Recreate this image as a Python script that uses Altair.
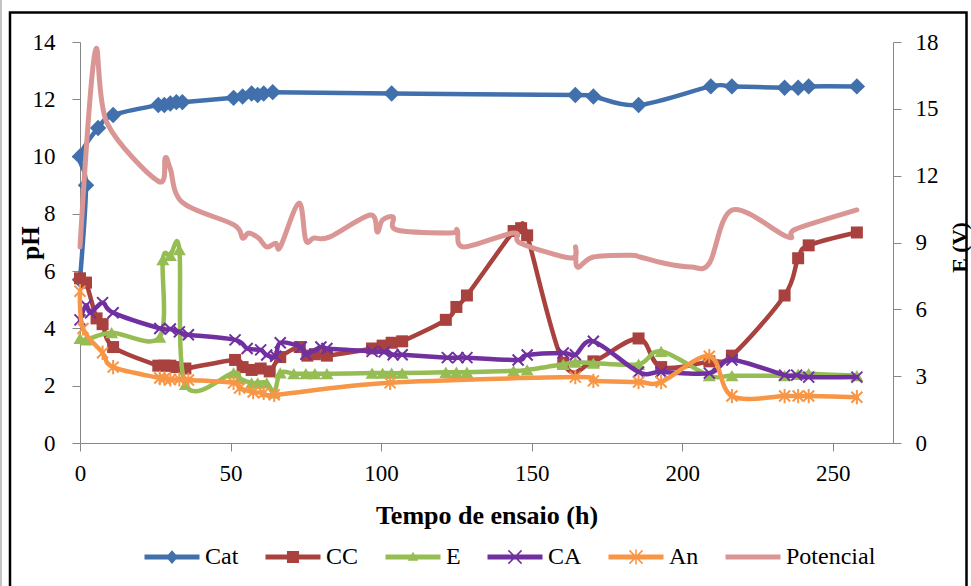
import altair as alt
import pandas as pd

# Elapsed test time (h) and measured pH for each compartment
cat_t = [0, 2, 0, 6, 11, 26, 28, 30, 32, 34, 51, 54, 57, 59, 61, 64, 103.5, 164.5,
         170.5, 185.5, 209.5, 216.5, 234, 238.5, 242, 258]
cat_ph = [5.7, 9.0, 10.0, 11.0, 11.45, 11.8, 11.8, 11.85, 11.9, 11.9, 12.05, 12.1, 12.2,
          12.15, 12.2, 12.25, 12.2, 12.15, 12.1, 11.8, 12.45, 12.45, 12.4, 12.4, 12.45, 12.45]

cc_t = [0, 2, 5.5, 7.5, 11, 26, 28, 30, 32, 35, 51.5, 54, 57, 60, 63, 66.5, 73, 75.5, 78,
        82, 97, 100.5, 103.5, 107, 121.5, 125, 128.5, 144, 146.5, 148.5, 160.5, 170.5,
        185.5, 193, 209, 216.5, 234, 238.5, 242, 258]
cc_ph = [5.75, 5.6, 4.35, 4.15, 3.35, 2.7, 2.7, 2.7, 2.65, 2.6, 2.9, 2.65, 2.55, 2.6, 2.5,
         3.0, 3.35, 3.05, 3.1, 3.05, 3.3, 3.4, 3.5, 3.55, 4.3, 4.75, 5.15, 7.4, 7.5, 7.25,
         2.8, 2.85, 3.65, 2.65, 2.85, 3.05, 5.15, 6.45, 6.9, 7.35]

e_t = [0, 2, 10.5, 26.5, 27.5, 30, 33, 35, 51, 53, 57, 59, 62, 64.5, 66.5, 71, 75, 78, 82,
       97, 100.5, 103.5, 107, 121.5, 125, 128.5, 144, 148.5, 160.5, 164.5, 170.5, 185.5,
       193, 209, 216.5, 234, 238.5, 242, 258]
e_ph = [3.65, 3.6, 3.85, 3.7, 6.4, 6.55, 6.75, 2.05, 2.45, 2.25, 2.1, 2.1, 2.1, 1.75, 2.45,
        2.42, 2.42, 2.42, 2.42, 2.44, 2.44, 2.44, 2.44, 2.47, 2.47, 2.47, 2.52, 2.55, 2.75,
        2.82, 2.79, 2.75, 3.2, 2.35, 2.35, 2.35, 2.4, 2.42, 2.35]

ca_t = [0, 2, 3.5, 7.5, 11, 26.5, 30, 33, 36, 51.5, 55.5, 60, 62, 65, 66.5, 73.5, 75, 80,
        82, 97, 101, 104, 107, 122, 125.5, 128.5, 145.5, 148.5, 160.5, 164.5, 170.5, 185.5,
        193, 209, 216.5, 234, 238, 242, 258]
ca_ph = [4.3, 4.8, 4.55, 4.9, 4.55, 4.0, 3.98, 3.88, 3.78, 3.6, 3.3, 3.25, 3.07, 3.03, 3.5,
         3.35, 3.1, 3.35, 3.3, 3.2, 3.18, 3.08, 3.08, 2.98, 2.98, 2.98, 2.9, 3.07, 3.14,
         3.08, 3.55, 2.48, 2.48, 2.44, 2.9, 2.37, 2.37, 2.3, 2.3]

an_t = [0, 1, 7.5, 11, 26.5, 28, 30, 33, 36, 51, 53, 57.5, 61, 64.5, 103, 164.5, 170.5,
        185.5, 193, 209, 216.5, 234, 238.5, 242, 258]
an_ph = [5.3, 4.0, 3.15, 2.65, 2.27, 2.25, 2.22, 2.22, 2.2, 2.1, 1.92, 1.78, 1.75, 1.68,
         2.1, 2.3, 2.17, 2.13, 2.13, 3.03, 1.64, 1.64, 1.64, 1.64, 1.6]

# Cell potential (V), secondary axis
pot_t = [0, 5, 9, 26, 28.3, 30, 34, 51, 54, 56, 59.3, 62, 65, 66.5, 72.7, 75, 77.7, 83,
         96.4, 98.7, 100.4, 104, 105.3, 123, 125.3, 127.4, 144, 146.3, 163, 164.6, 165.2,
         170.5, 183, 186, 194, 203, 209, 216.7, 235, 237.7, 258]
pot_e = [8.8, 17.55, 14.36, 11.75, 12.8, 12.3, 10.8, 9.8, 9.2, 9.43, 9.2, 8.8, 8.97, 8.8,
         10.77, 9.1, 9.2, 9.25, 10.23, 9.47, 10.0, 10.14, 9.56, 9.43, 9.56, 8.8, 9.43, 8.97,
         8.3, 8.8, 7.9, 8.35, 8.43, 8.35, 8.07, 7.9, 8.07, 10.46, 9.25, 9.6, 10.46]

series_names = ["Cat", "CC", "E", "CA", "An", "Potencial"]
series_colors = ["#4170AC", "#A9423E", "#95BD53", "#7030A0", "#F79646", "#D99694"]
x_ticks = [0, 50, 100, 150, 200, 250]
ph_ticks = [0, 2, 4, 6, 8, 10, 12, 14]
e_ticks = [0, 3, 6, 9, 12, 15, 18]

FONT = "Liberation Serif"
X_SCALE = alt.Scale(domain=[0, 270], nice=False, zero=False)
PH_SCALE = alt.Scale(domain=[0, 14], nice=False, zero=False)
E_SCALE = alt.Scale(domain=[0, 18], nice=False, zero=False)

AXIS_STYLE = dict(
    domainColor="#868686", tickColor="#868686", domainWidth=1, tickWidth=1, tickSize=8,
    grid=False, labelFont=FONT, labelFontSize=23, labelColor="black", labelFlush=False,
    titleFont=FONT, titleFontWeight="bold", titleColor="black",
)

x_axis = alt.Axis(values=x_ticks, labelPadding=11, title="Tempo de ensaio (h)",
                  titleFontSize=26, titleX=406.5, titleY=80, titleBaseline="alphabetic",
                  titleAlign="center", **AXIS_STYLE)
ph_axis = alt.Axis(values=ph_ticks, labelPadding=17, title="pH", titleFontSize=25,
                   titleX=-50, titleY=200.5, titleAngle=270, titleBaseline="middle",
                   titleAlign="center", **AXIS_STYLE)
e_axis = alt.Axis(orient="right", values=e_ticks, labelPadding=14, title="E (V)",
                  titleFontSize=22, titleX=66, titleY=205, titleAngle=270,
                  titleBaseline="middle", titleAlign="center", **AXIS_STYLE)

X_MARK = "M-1,-1L1,1M-1,1L1,-1"
STAR_MARK = "M-1,-1L1,1M-1,1L1,-1M0,-1.3L0,1.3"
markers = {
    "Cat": dict(shape="diamond", size=270, filled=True),
    "CC": dict(shape="square", size=144, filled=True),
    "E": dict(shape="triangle-up", size=170, filled=True),
    "CA": dict(shape=X_MARK, size=121, filled=False, strokeWidth=2),
    "An": dict(shape=STAR_MARK, size=121, filled=False, strokeWidth=2),
}


def frame(t, v):
    return pd.DataFrame({"t": t, "v": v, "i": list(range(len(t)))})


ph_series = [
    ("Cat", cat_t, cat_ph),
    ("CC", cc_t, cc_ph),
    ("E", e_t, e_ph),
    ("CA", ca_t, ca_ph),
    ("An", an_t, an_ph),
]

X_ENC = alt.X("t:Q", scale=X_SCALE, axis=x_axis)
PH_ENC = alt.Y("v:Q", scale=PH_SCALE, axis=ph_axis)

layers = []
for name, t, v in ph_series:
    col = series_colors[series_names.index(name)]
    df = frame(t, v)
    layers.append(
        alt.Chart(df).mark_line(interpolate="cardinal", strokeWidth=4.5, color=col,
                                strokeCap="round", strokeJoin="round")
        .encode(x=X_ENC, y=PH_ENC, order="i:Q")
    )
    layers.append(
        alt.Chart(df).mark_point(color=col, opacity=1, **markers[name])
        .encode(x=X_ENC, y=PH_ENC)
    )


# Legend glyphs: a line segment with the series marker in its middle
def bar(p, q, w):
    dx, dy = q[0] - p[0], q[1] - p[1]
    n = (dx * dx + dy * dy) ** 0.5
    nx, ny = -dy / n * w, dx / n * w
    pts = [(p[0] - nx, p[1] - ny), (q[0] - nx, q[1] - ny),
           (q[0] + nx, q[1] + ny), (p[0] + nx, p[1] + ny)]
    return "M" + "L".join(f"{a:.3f},{b:.3f}" for a, b in pts) + "Z"


seg = bar((-1, 0), (9, 0), 0.45)
cross = bar((2.8, -1.2), (5.2, 1.2), 0.14) + bar((2.8, 1.2), (5.2, -1.2), 0.14)
legend_paths = [
    seg + "M4,-1.25L5.1,0L4,1.25L2.9,0Z",
    seg + "M2.9,-1.1L5.1,-1.1L5.1,1.1L2.9,1.1Z",
    seg + "M4,-0.95L4.95,0.7L3.05,0.7Z",
    seg + cross,
    seg + cross + bar((4, -1.35), (4, 1.35), 0.14),
    seg,
]

legend_cfg = alt.Legend(
    title=None, orient="none", legendX=58, legendY=503, direction="horizontal", columns=6,
    symbolSize=121, symbolStrokeWidth=0, symbolOpacity=1, labelFont=FONT, labelFontSize=24,
    labelColor="black", labelOffset=43, columnPadding=20, labelBaseline="middle",
)
legend_layer = alt.Chart(pd.DataFrame({"series": series_names})).mark_point(
    filled=True, opacity=1, clip=True
).encode(
    x=alt.value(-5000),
    y=alt.value(-5000),
    color=alt.Color("series:N", scale=alt.Scale(domain=series_names, range=series_colors),
                    legend=legend_cfg),
    shape=alt.Shape("series:N", scale=alt.Scale(domain=series_names, range=legend_paths),
                    legend=legend_cfg),
)
layers.append(legend_layer)

ph_group = alt.layer(*layers)

pot_layer = alt.Chart(frame(pot_t, pot_e)).mark_line(
    interpolate="cardinal", strokeWidth=5, color=series_colors[-1],
    strokeCap="round", strokeJoin="round"
).encode(
    x=X_ENC,
    y=alt.Y("v:Q", scale=E_SCALE, axis=e_axis),
    order="i:Q",
)

# Outer chart border, with a faint page edge on the far left
border = alt.Chart(pd.DataFrame({"k": [0]})).mark_rect(
    fillOpacity=0, stroke="black", strokeWidth=2.5
).encode(
    x=alt.value(-70), x2=alt.value(886.5), y=alt.value(-29.5), y2=alt.value(640)
)
page_edge = alt.Chart(pd.DataFrame({"k": [0]})).mark_rule(
    color="#C4C4C4", strokeWidth=2
).encode(
    x=alt.value(-79), y=alt.value(-42), y2=alt.value(544)
)

chart = (
    alt.layer(ph_group, pot_layer, border, page_edge)
    .resolve_scale(y="independent")
    .properties(
        width=813, height=401,
        autosize=alt.AutoSizeParams(type="none"),
        padding={"left": 80, "top": 42, "right": 78, "bottom": 143},
        background="white",
    )
    .configure_view(stroke=None)
)

chart.save("out.html", embed_options={"renderer": "svg", "actions": False})
